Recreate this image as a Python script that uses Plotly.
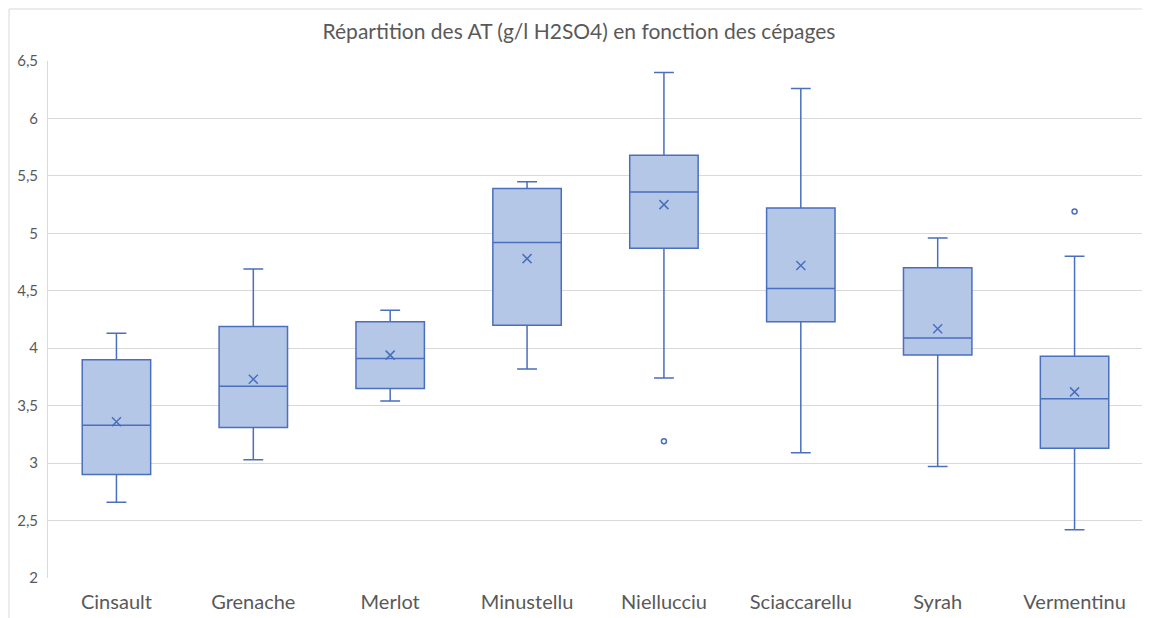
import plotly.graph_objects as go

cepages = ["Cinsault", "Grenache", "Merlot", "Minustellu", "Niellucciu", "Sciaccarellu", "Syrah", "Vermentinu"]
whisker_low = [2.66, 3.03, 3.54, 3.82, 3.74, 3.09, 2.97, 2.42]
q1 = [2.90, 3.31, 3.65, 4.20, 4.87, 4.23, 3.94, 3.13]
median = [3.33, 3.67, 3.91, 4.92, 5.36, 4.52, 4.09, 3.56]
q3 = [3.90, 4.19, 4.23, 5.39, 5.68, 5.22, 4.70, 3.93]
whisker_high = [4.13, 4.69, 4.33, 5.45, 6.40, 6.26, 4.96, 4.80]
moyenne = [3.36, 3.73, 3.94, 4.78, 5.25, 4.72, 4.17, 3.62]
outlier_cepages = ["Niellucciu", "Vermentinu"]
outlier_values = [3.19, 5.19]

line_col = "#4a6fbd"
fill_col = "#b4c7e7"
font_fam = "Lato, 'Open Sans', sans-serif"

fig = go.Figure()
fig.add_trace(go.Box(
    x=cepages, q1=q1, median=median, q3=q3,
    lowerfence=whisker_low, upperfence=whisker_high,
    fillcolor=fill_col, line=dict(color=line_col, width=1.5),
    width=0.5, whiskerwidth=0.29, boxpoints=False, showlegend=False, hoverinfo="skip",
))
fig.add_trace(go.Scatter(
    x=cepages, y=moyenne, mode="markers",
    marker=dict(symbol="x-thin-open", size=9, color=line_col, line=dict(color=line_col, width=1.5)),
    showlegend=False,
))
fig.add_trace(go.Scatter(
    x=outlier_cepages, y=outlier_values, mode="markers",
    marker=dict(symbol="circle-open", size=5, color=line_col, line=dict(color=line_col, width=1.5)),
    showlegend=False,
))

fig.update_layout(
    width=1142, height=610,
    margin=dict(l=40, r=7, t=53, b=40),
    paper_bgcolor="white", plot_bgcolor="white",
    separators=", ",
    title=dict(text="Répartition des AT (g/l H2SO4) en fonction des cépages",
               x=0.5, xanchor="center", y=0.9607, yanchor="middle",
               font=dict(family=font_fam, size=21, color="#595959")),
    font=dict(family=font_fam, color="#595959"),
    xaxis=dict(type="category", range=[-0.5, 7.5], showgrid=False, showline=False, ticks="",
               automargin=False, ticklabelstandoff=10, tickfont=dict(size=20, color="#595959")),
    yaxis=dict(range=[2, 6.5], dtick=0.5, tick0=2, showgrid=True, gridcolor="#d9d9d9",
               gridwidth=1, zeroline=False, showline=True, linecolor="#d9d9d9", automargin=False,
               ticks="", ticklabelstandoff=6, tickfont=dict(size=15, color="#595959")),
    shapes=[dict(type="rect", xref="paper", yref="paper", x0=-0.0356, x1=1.03,
                 y0=-0.2, y1=1.1006, line=dict(color="#d9d9d9", width=1))],
)

fig.write_html("out.html")
